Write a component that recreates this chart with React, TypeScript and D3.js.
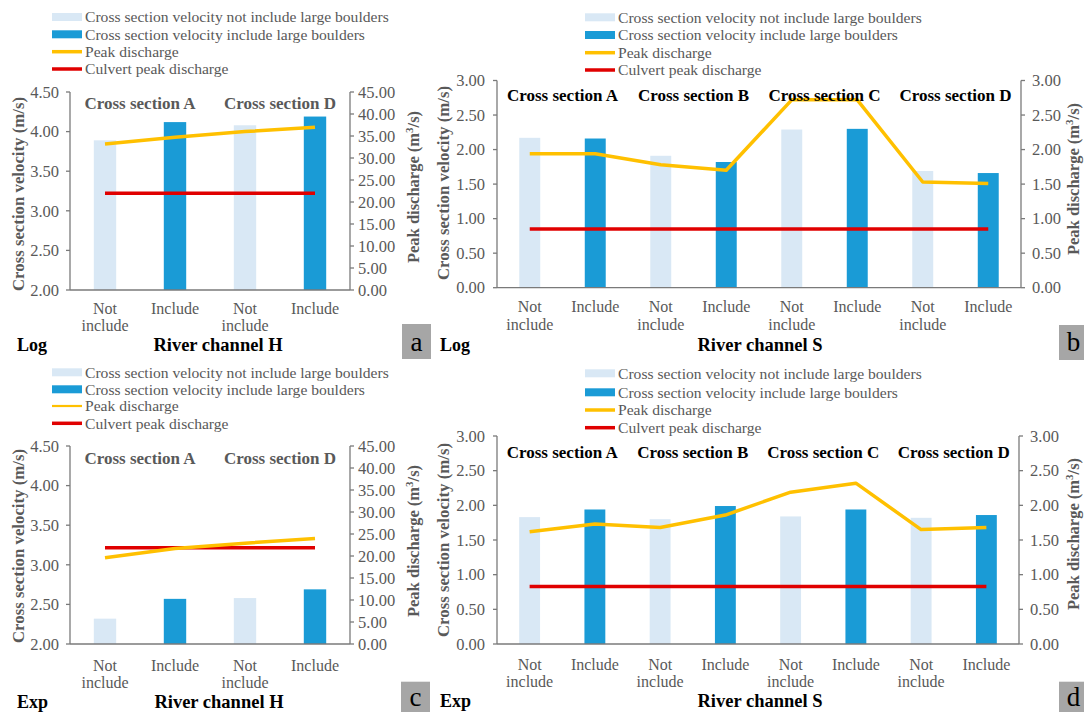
import React from "react";
import * as d3 from "d3";

// ---- data -------------------------------------------------------------
const channelHCategories = [["Not", "include"], ["Include"], ["Not", "include"], ["Include"]];
const channelSCategories = [
  ["Not", "include"], ["Include"], ["Not", "include"], ["Include"],
  ["Not", "include"], ["Include"], ["Not", "include"], ["Include"],
];
const channelHSections = ["Cross section A", "Cross section D"];
const channelSSections = ["Cross section A", "Cross section B", "Cross section C", "Cross section D"];

const logHVelocity = [3.89, 4.12, 4.08, 4.19];
const logHPeak = [33.2, 34.7, 36.0, 37.0];
const logHCulvert = [22.0, 22.0, 22.0, 22.0];

const logSVelocity = [2.17, 2.16, 1.91, 1.82, 2.29, 2.3, 1.69, 1.66];
const logSPeak = [1.94, 1.94, 1.78, 1.7, 2.72, 2.72, 1.53, 1.51];
const logSCulvert = [0.85, 0.85, 0.85, 0.85, 0.85, 0.85, 0.85, 0.85];

const expHVelocity = [2.32, 2.57, 2.58, 2.69];
const expHPeak = [19.6, 21.7, 22.9, 24.0];
const expHCulvert = [21.9, 21.9, 21.9, 21.9];

const expSVelocity = [1.83, 1.94, 1.8, 1.99, 1.84, 1.94, 1.82, 1.86];
const expSPeak = [1.62, 1.73, 1.68, 1.86, 2.19, 2.32, 1.65, 1.68];
const expSCulvert = [0.83, 0.83, 0.83, 0.83, 0.83, 0.83, 0.83, 0.83];

const hVelocityTicks = [2.0, 2.5, 3.0, 3.5, 4.0, 4.5];
const hPeakTicks = [0, 5, 10, 15, 20, 25, 30, 35, 40, 45];
const sTicks = [0, 0.5, 1.0, 1.5, 2.0, 2.5, 3.0];

const legendLabels = [
  "Cross section velocity not include large boulders",
  "Cross section velocity include large boulders",
  "Peak discharge",
  "Culvert peak discharge",
];

// ---- styling ---------------------------------------------------------
const FONT = "'Liberation Serif', 'Times New Roman', serif";
const GRAY_TEXT = "#595959";
const AXIS = "#7a7a7a";
const LIGHT = "#d9e8f5";
const DARK = "#1a9bd6";
const ORANGE = "#ffc000";
const RED = "#e00000";
const BOX = "#a6a6a6";

type PanelProps = {
  left: number; right: number; top: number; bottom: number;
  categories: string[][];
  sections: string[];
  velocity: number[]; peak: number[]; culvert: number[];
  leftDomain: [number, number]; rightDomain: [number, number];
  leftTicks: number[]; rightTicks: number[];
  legendX: number; legendRows: number[]; legendPeakWidth: number;
  sectionY: number; sectionColor: string;
  leftTitleX: number; leftTitleY: number;
  rightTitleX: number; rightTitleY: number;
  catY: number;
  modelLabel: string; modelX: number;
  channelLabel: string; channelX: number; bottomY: number;
  letter: string; boxX: number; boxY: number; letterY: number;
  leftGap: number; rightGap: number;
};

function PeakTitle({ x, y }: { x: number; y: number }) {
  return (
    <text
      transform={`translate(${x},${y}) rotate(-90)`}
      textAnchor="middle"
      dy="0.35em"
      fontFamily={FONT}
      fontWeight="bold"
      fontSize={16.5}
      fill={GRAY_TEXT}
    >
      Peak discharge (m
      <tspan dy={-6} fontSize={11}>3</tspan>
      <tspan dy={6}>/s)</tspan>
    </text>
  );
}

function Panel(p: PanelProps) {
  const idx = p.categories.map((_, i) => i);
  const x = d3.scaleBand<number>().domain(idx).range([p.left, p.right]).paddingInner(0.68).paddingOuter(0.34);
  const yL = d3.scaleLinear().domain(p.leftDomain).range([p.bottom, p.top]);
  const yR = d3.scaleLinear().domain(p.rightDomain).range([p.bottom, p.top]);
  const cx = (i: number) => (x(i) as number) + x.bandwidth() / 2;
  const line = d3.line<number>().x((_, i) => cx(i)).y((d) => yR(d));
  const fmt = d3.format(".2f");

  return (
    <g>
      {/* legend */}
      {legendLabels.map((lab, i) => {
        const ly = p.legendRows[i];
        const sx = p.legendX;
        return (
          <g key={lab}>
            {i === 0 && <rect x={sx} y={ly - 4} width={30} height={8} fill={LIGHT} />}
            {i === 1 && <rect x={sx} y={ly - 4} width={30} height={8} fill={DARK} />}
            {i === 2 && <line x1={sx} x2={sx + 30} y1={ly} y2={ly} stroke={ORANGE} strokeWidth={p.legendPeakWidth} />}
            {i === 3 && <line x1={sx} x2={sx + 30} y1={ly} y2={ly} stroke={RED} strokeWidth={3.5} />}
            <text x={sx + 33} y={ly} dy="0.35em" fontFamily={FONT} fontSize={15.6} fill={GRAY_TEXT}>
              {lab}
            </text>
          </g>
        );
      })}

      {/* bars */}
      {p.velocity.map((v, i) => (
        <rect
          key={`b${i}`}
          x={x(i)}
          y={yL(v)}
          width={x.bandwidth()}
          height={p.bottom - yL(v)}
          fill={i % 2 === 0 ? LIGHT : DARK}
        />
      ))}

      {/* lines */}
      <path d={line(p.culvert) || ""} fill="none" stroke={RED} strokeWidth={3.5} />
      <path d={line(p.peak) || ""} fill="none" stroke={ORANGE} strokeWidth={3.5} strokeLinejoin="round" />

      {/* axes */}
      <line x1={p.left} x2={p.left} y1={p.top} y2={p.bottom} stroke={AXIS} strokeWidth={1.3} />
      <line x1={p.right} x2={p.right} y1={p.top} y2={p.bottom} stroke={AXIS} strokeWidth={1.3} />
      <line x1={p.left} x2={p.right} y1={p.bottom} y2={p.bottom} stroke={AXIS} strokeWidth={1.3} />
      {p.leftTicks.map((t) => (
        <g key={`l${t}`}>
          <line x1={p.left - 4} x2={p.left} y1={yL(t)} y2={yL(t)} stroke={AXIS} strokeWidth={1.3} />
          <text x={p.left - p.leftGap} y={yL(t)} dy="0.35em" textAnchor="end" fontFamily={FONT} fontSize={16.5} fill={GRAY_TEXT}>
            {fmt(t)}
          </text>
        </g>
      ))}
      {p.rightTicks.map((t) => (
        <g key={`r${t}`}>
          <line x1={p.right} x2={p.right + 4} y1={yR(t)} y2={yR(t)} stroke={AXIS} strokeWidth={1.3} />
          <text x={p.right + p.rightGap} y={yR(t)} dy="0.35em" textAnchor="start" fontFamily={FONT} fontSize={16.5} fill={GRAY_TEXT}>
            {fmt(t)}
          </text>
        </g>
      ))}

      {/* category labels */}
      {p.categories.map((lines, i) => (
        <text key={`c${i}`} textAnchor="middle" fontFamily={FONT} fontSize={16} fill={GRAY_TEXT}>
          {lines.map((ln, j) => (
            <tspan key={j} x={cx(i)} y={p.catY + j * 17.5} dy="0.35em">
              {ln}
            </tspan>
          ))}
        </text>
      ))}

      {/* section titles over each pair */}
      {p.sections.map((s, k) => (
        <text
          key={s}
          x={(cx(2 * k) + cx(2 * k + 1)) / 2}
          y={p.sectionY}
          dy="0.35em"
          textAnchor="middle"
          fontFamily={FONT}
          fontWeight="bold"
          fontSize={17}
          fill={p.sectionColor}
        >
          {s}
        </text>
      ))}

      {/* axis titles */}
      <text
        transform={`translate(${p.leftTitleX},${p.leftTitleY}) rotate(-90)`}
        textAnchor="middle"
        dy="0.35em"
        fontFamily={FONT}
        fontWeight="bold"
        fontSize={16.8}
        fill={GRAY_TEXT}
      >
        Cross section velocity (m/s)
      </text>
      <PeakTitle x={p.rightTitleX} y={p.rightTitleY} />

      {/* bottom captions */}
      <text x={p.modelX} y={p.bottomY} dy="0.35em" fontFamily={FONT} fontWeight="bold" fontSize={18} fill="#000">
        {p.modelLabel}
      </text>
      <text x={p.channelX} y={p.bottomY} dy="0.35em" textAnchor="middle" fontFamily={FONT} fontWeight="bold" fontSize={18.5} fill="#000">
        {p.channelLabel}
      </text>
      <rect x={p.boxX} y={p.boxY} width={29} height={35} fill={BOX} />
      <text x={p.boxX + 14.5} y={p.letterY} dy="0.35em" textAnchor="middle" fontFamily={FONT} fontSize={27} fill="#000">
        {p.letter}
      </text>
    </g>
  );
}

export default function App() {
  return (
    <svg width={1084} height={712} style={{ position: "absolute", left: 0, top: 0, background: "#fff" }}>
      <rect width={1084} height={712} fill="#fff" />
      <Panel
        left={70} right={350} top={92} bottom={290}
        categories={channelHCategories} sections={channelHSections}
        velocity={logHVelocity} peak={logHPeak} culvert={logHCulvert}
        leftDomain={[2, 4.5]} rightDomain={[0, 45]}
        leftTicks={hVelocityTicks} rightTicks={hPeakTicks}
        legendX={52} legendRows={[17, 34.3, 51.7, 69]} legendPeakWidth={3.5}
        sectionY={103} sectionColor={GRAY_TEXT}
        leftTitleX={18} leftTitleY={194} rightTitleX={413} rightTitleY={187}
        catY={308}
        modelLabel="Log" modelX={17} channelLabel="River channel H" channelX={218} bottomY={345}
        letter="a" boxX={402} boxY={324} letterY={342}
        leftGap={11} rightGap={8}
      />
      <Panel
        left={497} right={1021} top={80.5} bottom={287.7}
        categories={channelSCategories} sections={channelSSections}
        velocity={logSVelocity} peak={logSPeak} culvert={logSCulvert}
        leftDomain={[0, 3]} rightDomain={[0, 3]}
        leftTicks={sTicks} rightTicks={sTicks}
        legendX={585} legendRows={[17.3, 35, 52.7, 70]} legendPeakWidth={3.5}
        sectionY={95} sectionColor="#000"
        leftTitleX={443} leftTitleY={183} rightTitleX={1073} rightTitleY={179}
        catY={306.7}
        modelLabel="Log" modelX={440} channelLabel="River channel S" channelX={760} bottomY={345}
        letter="b" boxX={1059} boxY={325} letterY={342}
        leftGap={12} rightGap={11}
      />
      <Panel
        left={70} right={350} top={446} bottom={644}
        categories={channelHCategories} sections={channelHSections}
        velocity={expHVelocity} peak={expHPeak} culvert={expHCulvert}
        leftDomain={[2, 4.5]} rightDomain={[0, 45]}
        leftTicks={hVelocityTicks} rightTicks={hPeakTicks}
        legendX={52} legendRows={[372.3, 389.3, 406, 423.3]} legendPeakWidth={2.2}
        sectionY={458.3} sectionColor={GRAY_TEXT}
        leftTitleX={18} leftTitleY={546} rightTitleX={413} rightTitleY={541}
        catY={665}
        modelLabel="Exp" modelX={17} channelLabel="River channel H" channelX={219} bottomY={701.7}
        letter="c" boxX={401} boxY={681.7} letterY={697}
        leftGap={11} rightGap={8}
      />
      <Panel
        left={497} right={1019} top={436} bottom={644}
        categories={channelSCategories} sections={channelSSections}
        velocity={expSVelocity} peak={expSPeak} culvert={expSCulvert}
        leftDomain={[0, 3]} rightDomain={[0, 3]}
        leftTicks={sTicks} rightTicks={sTicks}
        legendX={585} legendRows={[373.3, 392.3, 410, 427.7]} legendPeakWidth={3.5}
        sectionY={451.7} sectionColor="#000"
        leftTitleX={443.6} leftTitleY={540} rightTitleX={1073} rightTitleY={534}
        catY={664}
        modelLabel="Exp" modelX={440} channelLabel="River channel S" channelX={760} bottomY={700.7}
        letter="d" boxX={1059} boxY={681.7} letterY={697}
        leftGap={12} rightGap={11}
      />
    </svg>
  );
}
